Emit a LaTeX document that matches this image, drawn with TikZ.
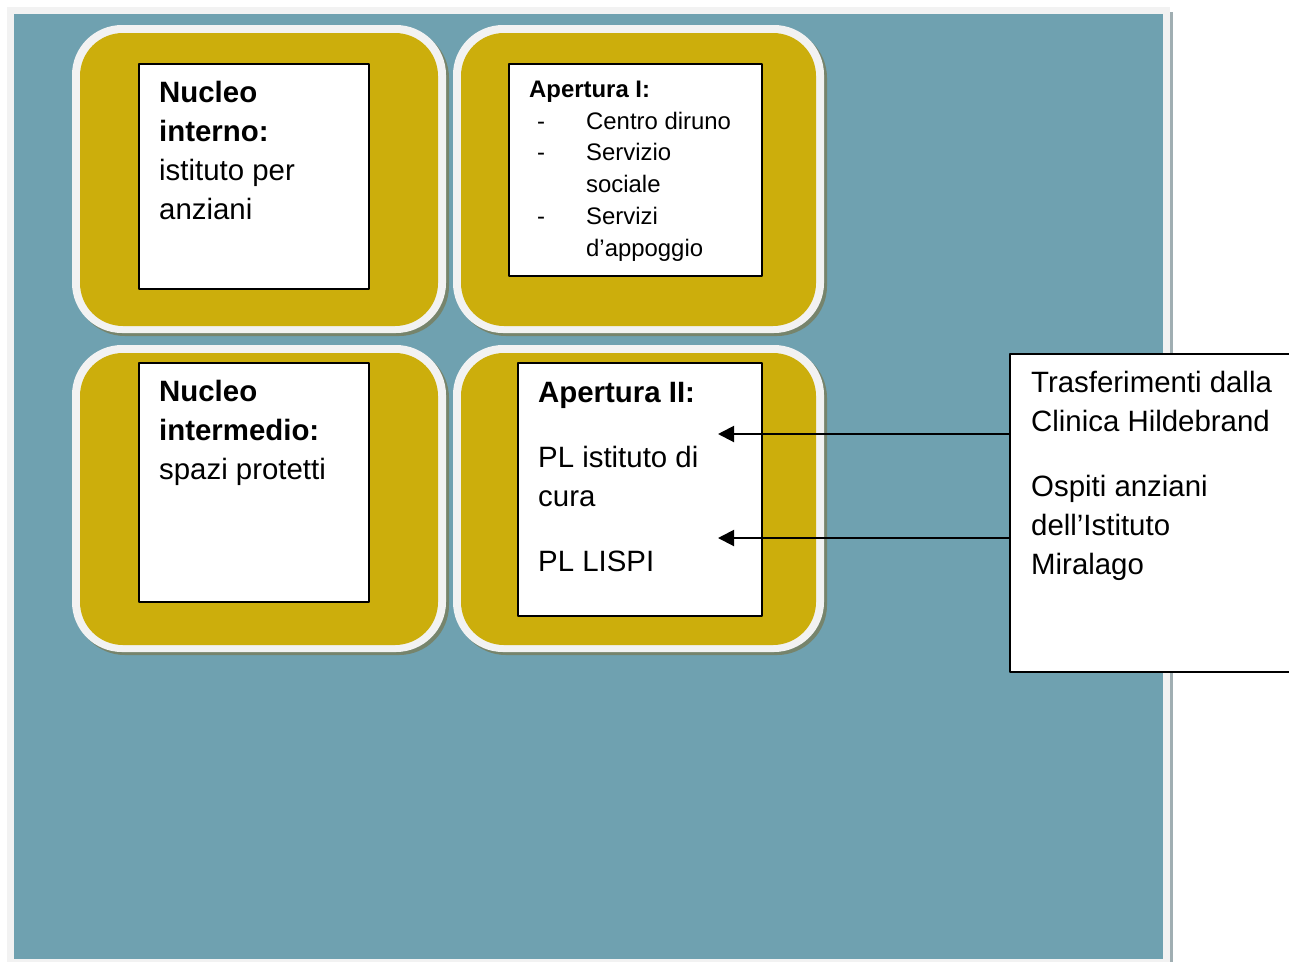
\documentclass[tikz,border=0pt]{standalone}
\usepackage{fontspec}
\setmainfont{Liberation Sans}
\usetikzlibrary{arrows.meta}

\definecolor{sfondo}{RGB}{111,161,176}
\definecolor{cornice}{RGB}{242,242,242}
\definecolor{ocra}{RGB}{204,174,12}
\definecolor{ombra}{RGB}{118,132,108}
\definecolor{bordo}{RGB}{160,174,178}

\begin{document}
\begin{tikzpicture}[x=1pt, y=-1pt, line join=round,
  riquadro/.style={draw=black, line width=2pt, fill=white, inner sep=0pt},
  testo/.style={anchor=base west, inner sep=0pt, align=left, font=\fontsize{29.4}{39}\selectfont},
  freccia/.style={line width=2pt, -{Triangle[length=16pt, width=16pt]}}]

  \path[use as bounding box] (0,0) rectangle (1289,962);

  % ── sfondo con cornice ──
  \fill[cornice] (7,7) rectangle (1170,962);
  \fill[sfondo] (14,14) rectangle (1163,959);
  \fill[bordo] (1170,12) rectangle (1173,962);

  % ── quattro pannelli arrotondati (ombra, bordo chiaro, ocra) ──
  \foreach \xa/\ya/\xb/\yb in {72/25/446/333, 453/25/824/333, 72/345/446/652, 453/345/824/652} {
    \fill[ombra, rounded corners=50] (\xa+3,\ya+3) rectangle (\xb+3,\yb+3);
    \fill[cornice, rounded corners=50] (\xa,\ya) rectangle (\xb,\yb);
    \fill[ocra, rounded corners=43] (\xa+8,\ya+8) rectangle (\xb-8,\yb-7);
  }

  % ── riquadri bianchi ──
  \node[riquadro, minimum width=230, minimum height=225] (rNucleoInt) at (254,176.5) {};
  \node[riquadro, minimum width=253, minimum height=212] (rAperturaI) at (635.5,170) {};
  \node[riquadro, minimum width=230, minimum height=239] (rNucleoMed) at (254,482.5) {};
  \node[riquadro, minimum width=244, minimum height=253] (rAperturaII) at (640,489.5) {};

  % ── riquadro esterno (tagliato a destra) ──
  \node[fill=white, inner sep=0pt, minimum width=279, minimum height=318, anchor=north west] (esterno) at (1010,354) {};
  \draw[line width=2pt] (esterno.north east) -- (esterno.north west) -- (esterno.south west) -- (esterno.south east);

  % ── testi (anchor=base: baseline dell'ultima riga) ──
  \node[testo] (tNucleoInt) at (159,219) {\textbf{Nucleo}\\\textbf{interno:}\\istituto per\\anziani};
  \node[testo] (tNucleoMed) at (159,479) {\textbf{Nucleo}\\\textbf{intermedio:}\\spazi protetti};
  \node[testo, font=\fontsize{23.9}{31.7}\selectfont] (tAperturaI) at (529,256)
    {\textbf{Apertura I:}\\
     \hspace*{8pt}\makebox[49pt][l]{-}Centro diruno\\
     \hspace*{8pt}\makebox[49pt][l]{-}Servizio\\
     \hspace*{57pt}sociale\\
     \hspace*{8pt}\makebox[49pt][l]{-}Servizi\\
     \hspace*{57pt}d’appoggio};
  \node[testo] (tAperturaII) at (538,571) {\textbf{Apertura II:}\\[26pt]PL istituto di\\cura\\[26pt]PL LISPI};
  \node[testo] (tEsterno) at (1031,574) {Trasferimenti dalla\\Clinica Hildebrand\\[26pt]Ospiti anziani\\dell’Istituto\\Miralago};

  % ── frecce ──
  \coordinate (puntaA) at (718,434);
  \coordinate (puntaB) at (718,538);
  \draw[freccia] (esterno.west |- puntaA) -- (puntaA);
  \draw[freccia] (esterno.west |- puntaB) -- (puntaB);
\end{tikzpicture}
\end{document}
